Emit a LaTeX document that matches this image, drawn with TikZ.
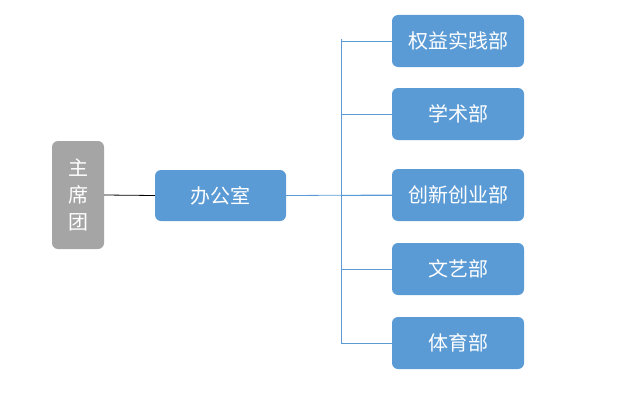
\documentclass[tikz,border=0pt]{standalone}
\usepackage{fontspec}
\setmainfont{Noto Sans CJK SC}
\usepackage{tikz}
\usetikzlibrary{positioning}

\definecolor{deptblue}{HTML}{5B9BD5}
\definecolor{leadgray}{HTML}{A5A5A5}

\begin{document}
\begin{tikzpicture}[x=1pt, y=-1pt, font=\fontsize{20}{27}\selectfont]
	\useasboundingbox (0,0) rectangle (617,404);
	
	% Define nodes
	\node [fill=leadgray, rounded corners=6pt, minimum width=52pt, minimum height=108pt, align=center, text=white, inner sep=0pt] (zxt) at (78,195) {主\\席\\团};
	\node [fill=deptblue, rounded corners=6pt, minimum width=131pt, minimum height=51pt, text=white] (bgs) at (220.5,195.5) {办公室};
	\node [fill=deptblue, rounded corners=6pt, minimum width=132pt, minimum height=52pt, text=white] (qysj) at (458,41) {权益实践部};
	\node [fill=deptblue, rounded corners=6pt, minimum width=132pt, minimum height=52pt, text=white] (xs) at (458,114) {学术部};
	\node [fill=deptblue, rounded corners=6pt, minimum width=132pt, minimum height=52pt, text=white] (cxcy) at (458,195) {创新创业部};
	\node [fill=deptblue, rounded corners=6pt, minimum width=132pt, minimum height=52pt, text=white] (wy) at (458,269) {文艺部};
	\node [fill=deptblue, rounded corners=6pt, minimum width=132pt, minimum height=52pt, text=white] (ty) at (458,343) {体育部};
	\coordinate (trunktop) at (341,39);
	\coordinate (trunkbot) at (341,343);
	
	% Lines between blocks
	\draw[black, line width=0.8pt] (zxt.east) -- (bgs.west);
	\draw[deptblue, line width=0.8pt] (bgs.east) -- (cxcy.west);
	\draw[deptblue, line width=0.8pt] (trunktop) -- (trunkbot);
	\foreach \dept in {qysj, xs, cxcy, wy, ty}
		\draw[deptblue, line width=0.8pt] (\dept.west) -- (\dept.west -| trunktop);
\end{tikzpicture}
\end{document}
